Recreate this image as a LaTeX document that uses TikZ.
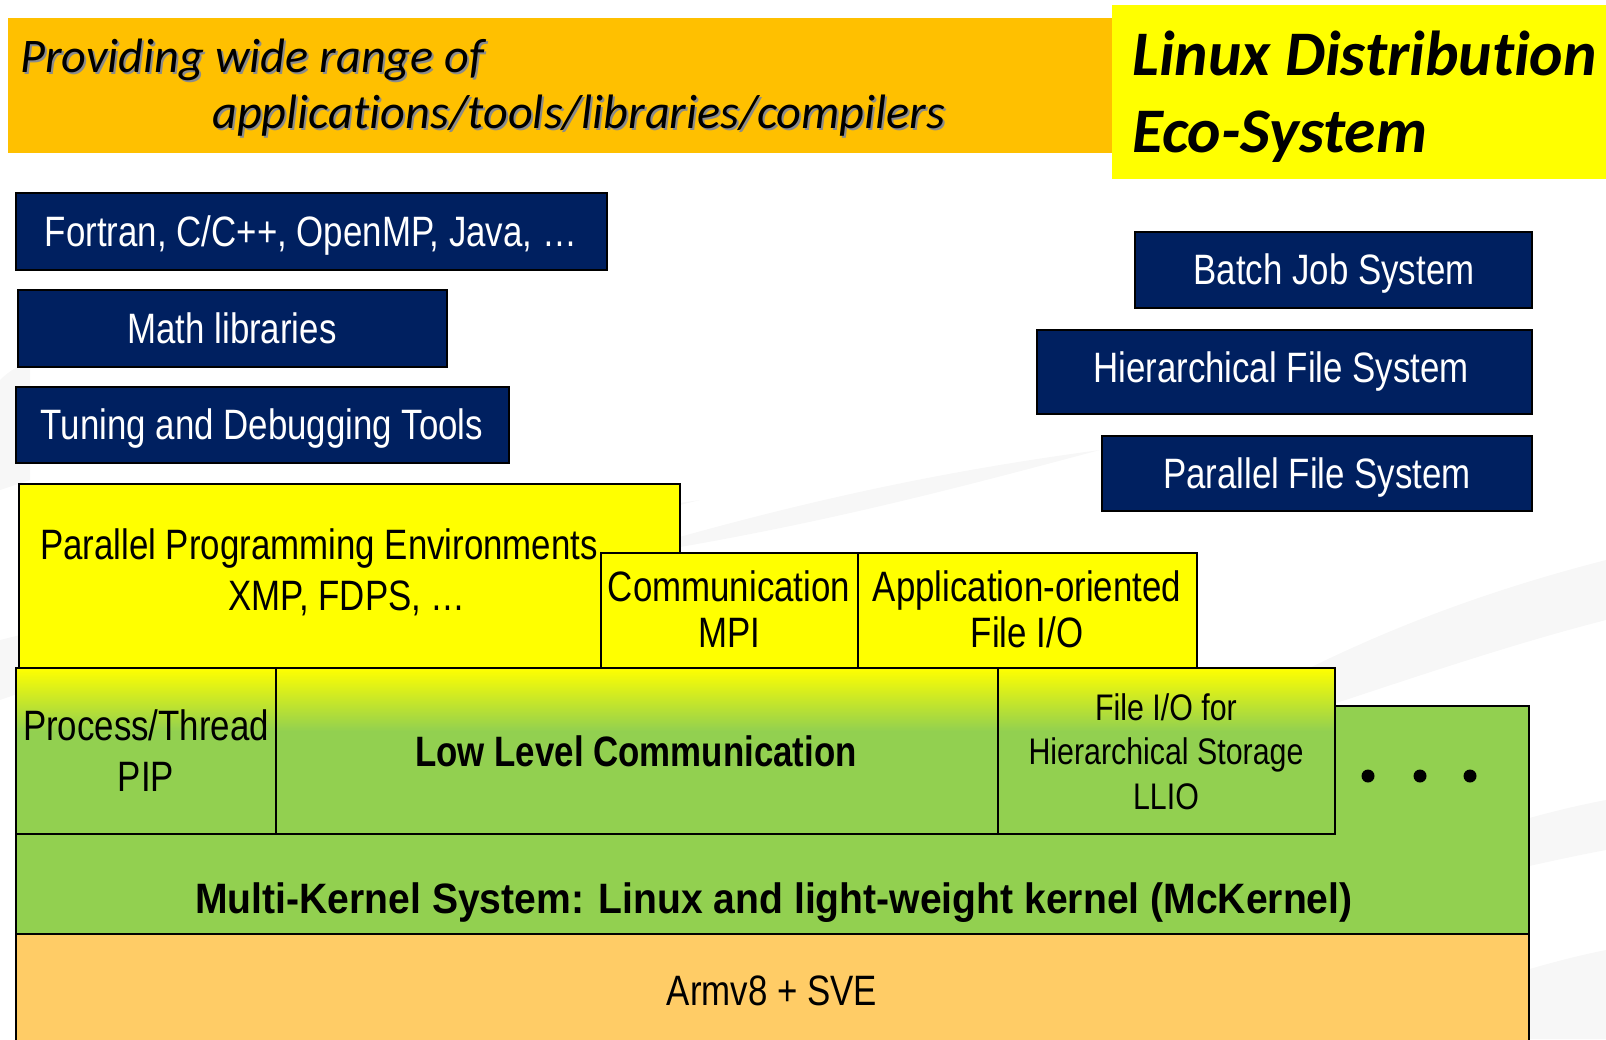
\documentclass[tikz,border=0pt]{standalone}
\usepackage{fontspec}
\setmainfont{Liberation Sans}
\newfontfamily\narrowfont[FakeStretch=0.82]{Liberation Sans}
\newfontfamily\widenarrowfont[FakeStretch=0.92]{Liberation Sans}
\newfontfamily\titlefont[Ligatures=NoCommon]{Carlito}
\usetikzlibrary{fit}

\definecolor{navy}{HTML}{002060}
\definecolor{bannerorange}{HTML}{FFC000}
\definecolor{titleyellow}{HTML}{FFFF00}
\definecolor{leafgreen}{HTML}{92D050}
\definecolor{armorange}{HTML}{FFCC66}

% yellow at the top edge, fading into green over the upper third
\pgfdeclareverticalshading{layerfade}{100bp}{%
  color(0bp)=(leafgreen); color(25bp)=(leafgreen); color(56bp)=(leafgreen);
  color(75bp)=(titleyellow); color(100bp)=(titleyellow)}

\newcommand\boxfont{\narrowfont\fontsize{42.5}{50}\selectfont}
\newcommand\widefont{\widenarrowfont\fontsize{42.5}{50}\selectfont}
\newcommand\smallboxfont{\narrowfont\fontsize{37}{44}\selectfont}

\tikzset{
  region/.style={inner sep=0pt, outer sep=0pt},
  navybox/.style={region, draw=black, line width=1.6pt, fill=navy},
  layerbox/.style={region, draw=black, line width=1.3pt},
  whitelabel/.style={inner sep=0pt, anchor=base, text=white, font=\boxfont},
  blacklabel/.style={inner sep=0pt, anchor=base, text=black, font=\boxfont},
  boldlabel/.style={blacklabel, font=\boxfont\bfseries},
  wideboldlabel/.style={blacklabel, font=\widefont\bfseries},
  smalllabel/.style={inner sep=0pt, anchor=base, text=black, font=\smallboxfont},
  bannertext/.style={inner sep=0pt, anchor=base west, text=black,
    font=\titlefont\itshape\fontsize{48.3}{56}\selectfont},
  bannershadow/.style={bannertext, text=black!45},
  titletext/.style={inner sep=0pt, anchor=base west, text=black,
    font=\titlefont\bfseries\itshape\fontsize{63.5}{72}\selectfont},
  streak/.style={fill=black, opacity=0.03},
}

\begin{document}
\begin{tikzpicture}[x=1pt, y=-1pt]
\useasboundingbox (0,0) rectangle (1606,1039);
\clip (0,0) rectangle (1606,1039);
\fill[white] (0,0) rectangle (1606,1039);

% faint background swooshes
\fill[streak] (0,640) .. controls (200,590) and (420,540) .. (700,500)
  .. controls (420,570) and (200,630) .. (0,700) -- cycle;
\fill[streak] (600,560) .. controls (800,500) and (950,470) .. (1100,450)
  .. controls (950,490) and (800,530) .. (600,560) -- cycle;
\fill[streak] (1150,760) .. controls (1300,660) and (1450,600) .. (1606,560)
  -- (1606,620) .. controls (1450,660) and (1300,720) .. (1150,760) -- cycle;
\fill[streak] (1250,920) .. controls (1400,860) and (1500,820) .. (1606,800)
  -- (1606,850) .. controls (1500,870) and (1400,900) .. (1250,920) -- cycle;
\fill[streak] (1300,1039) .. controls (1450,995) and (1530,965) .. (1606,950)
  -- (1606,1039) -- cycle;
\fill[streak] (0,380) .. controls (10,370) and (20,365) .. (30,362)
  -- (30,480) -- (0,490) -- cycle;

% headline banners
\node[region, fill=bannerorange, fit={(8,18) (1112,153)}] (banner) {};
\node[region, fill=titleyellow, fit={(1112,5) (1616,179)}] (titlebox) {};

\node[bannershadow] (bannerA-s) at (22,74) {Providing wide range of};
\node[bannertext]   (bannerA)   at (20,72) {Providing wide range of};
\node[bannershadow] (bannerB-s) at (214,130) {applications/tools/libraries/compilers};
\node[bannertext]   (bannerB)   at (212,128) {applications/tools/libraries/compilers};

\node[titletext] (titleA) at (1132,75) {Linux Distribution};
\node[titletext] (titleB) at (1132,152) {Eco-System};

% software boxes on the left
\node[navybox, fit={(16,193) (607,270)}] (fortran) {};
\node[navybox, fit={(18,290) (447,367)}] (mathlib) {};
\node[navybox, fit={(16,387) (509,463)}] (tuning) {};
\node[whitelabel] (fortran-t) at (311,246) {Fortran, C/C++, OpenMP, Java, \dots};
\node[whitelabel] (mathlib-t) at (232,343) {Math libraries};
\node[whitelabel] (tuning-t)  at (262,439) {Tuning and Debugging Tools};

% system services on the right
\node[navybox, fit={(1135,232) (1532,308)}] (batch) {};
\node[navybox, fit={(1037,330) (1532,414)}] (hfs) {};
\node[navybox, fit={(1102,436) (1532,511)}] (pfs) {};
\node[whitelabel] (batch-t) at (1334,284) {Batch Job System};
\node[whitelabel] (hfs-t)   at (1281,382) {Hierarchical File System};
\node[whitelabel] (pfs-t)   at (1317,488) {Parallel File System};

% kernel and hardware layers
\node[layerbox, fill=leafgreen, fit={(16,706) (1529,934)}] (mckernel) {};
\node[layerbox, fill=armorange, fit={(16,934) (1529,1060)}] (arm) {};

% middleware layer
\node[layerbox, fill=titleyellow, fit={(19,484) (680,668)}] (ppe) {};
\node[layerbox, fill=titleyellow, fit={(601,553) (858,668)}] (comm) {};
\node[layerbox, fill=titleyellow, fit={(858,553) (1197,668)}] (appio) {};

% low level layer
\node[layerbox, shading=layerfade, fit={(16,668) (276,834)}] (proc) {};
\node[layerbox, shading=layerfade, fit={(276,668) (998,834)}] (llc) {};
\node[layerbox, shading=layerfade, fit={(998,668) (1335,834)}] (llio) {};

\node[blacklabel] (ppe-a) at (319,559) {Parallel Programming Environments};
\node[blacklabel] (ppe-b) at (347,610) {XMP, FDPS, \dots};
\node[blacklabel] (comm-a) at (729,601) {Communication};
\node[blacklabel] (comm-b) at (729,647) {MPI};
\node[blacklabel] (appio-a) at (1027,601) {Application-oriented};
\node[blacklabel] (appio-b) at (1027,647) {File I/O};

\node[blacklabel] (proc-a) at (146,740) {Process/Thread};
\node[blacklabel] (proc-b) at (146,791) {PIP};
\node[boldlabel]  (llc-t)  at (636,766) {Low Level Communication};
\node[smalllabel] (llio-a) at (1166,720) {File I/O for};
\node[smalllabel] (llio-b) at (1166,764) {Hierarchical Storage};
\node[smalllabel] (llio-c) at (1166,809) {LLIO};

\fill (1368,776) circle (6.5);
\fill (1420,776) circle (6.5);
\fill (1470,776) circle (6.5);

\node[wideboldlabel] (mckernel-t) at (774,913) {Multi-Kernel System: Linux and light-weight kernel (McKernel)};
\node[blacklabel] (arm-t) at (772,1005) {Armv8 + SVE};
\end{tikzpicture}
\end{document}
